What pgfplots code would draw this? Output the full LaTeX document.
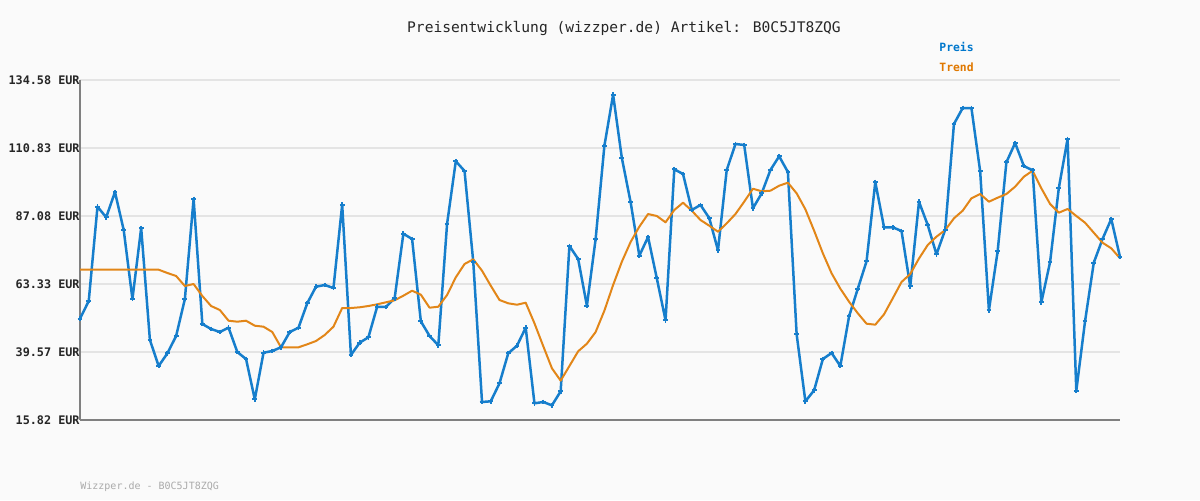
\documentclass[border=0pt]{standalone}
\usepackage{fontspec}
\newfontfamily\mono{DejaVu Sans Mono}
\usepackage{pgfplots}
\usepackage{pgfplotstable}
\pgfplotsset{compat=1.18}
\definecolor{bgcol}{HTML}{FAFAFA}
\definecolor{preis}{RGB}{22,126,204}
\definecolor{preistxt}{RGB}{0,119,204}
\definecolor{trend}{RGB}{226,134,24}
\definecolor{trendtxt}{RGB}{224,120,0}
\definecolor{gridc}{HTML}{E4E4E4}
\definecolor{axisc}{HTML}{808080}
\definecolor{foot}{HTML}{AAAAAA}

\pgfplotstableread{
x preis trend
0 51.20 68.32
1 57.39 68.32
2 90.33 68.32
3 86.62 68.32
4 95.46 68.32
5 82.19 68.32
6 58.08 68.32
7 82.88 68.32
8 43.76 68.32
9 34.68 68.32
10 39.12 67.17
11 45.16 66.12
12 58.08 62.63
13 93.01 63.32
14 49.35 59.13
15 47.61 55.64
16 46.56 54.24
17 48.06 50.50
18 39.57 50.16
19 37.13 50.50
20 23.05 48.76
21 39.33 48.41
22 39.92 46.56
23 41.21 41.21
24 46.56 41.21
25 48.06 41.21
26 56.58 42.26
27 62.38 43.41
28 62.97 45.51
29 61.93 48.41
30 91.02 54.94
31 38.52 54.94
32 42.82 55.19
33 44.71 55.64
34 55.39 56.23
35 55.29 56.93
36 58.33 57.63
37 80.89 59.24
38 79.04 60.98
39 50.30 59.59
40 45.16 55.05
41 41.91 55.39
42 84.28 59.48
43 106.22 65.66
44 102.79 70.31
45 71.01 71.95
46 22.11 67.97
47 22.35 62.73
48 28.64 57.74
49 39.12 56.58
50 41.77 56.09
51 48.06 56.79
52 21.65 49.60
53 22.11 41.67
54 20.95 33.88
55 25.84 29.55
56 76.60 34.68
57 72.06 39.82
58 55.74 42.47
59 79.04 46.56
60 111.53 54.00
61 129.45 62.97
62 107.34 71.11
63 91.97 77.99
64 73.21 83.34
65 79.74 87.77
66 65.31 87.08
67 50.64 84.88
68 103.39 89.17
69 101.75 91.72
70 89.17 88.93
71 90.92 85.68
72 86.38 83.69
73 75.10 81.59
74 103.14 84.52
75 112.23 87.77
76 111.88 92.07
77 89.77 96.61
78 95.00 95.70
79 103.14 95.91
80 107.93 97.66
81 102.44 98.71
82 45.75 95.00
83 22.35 89.42
84 26.19 81.94
85 37.13 74.05
86 39.22 67.06
87 34.68 61.68
88 52.04 57.14
89 61.68 53.09
90 71.25 49.46
91 98.95 49.11
92 83.13 52.74
93 83.13 58.33
94 81.84 64.02
95 62.52 66.82
96 92.04 72.23
97 83.93 76.95
98 73.70 79.85
99 82.29 82.19
100 119.21 86.27
101 124.80 88.93
102 124.80 93.26
103 102.69 94.76
104 54.14 92.07
105 74.75 93.47
106 105.83 94.76
107 112.57 97.31
108 104.54 100.80
109 103.04 102.90
110 56.93 96.75
111 71.01 91.27
112 96.86 88.23
113 113.97 89.52
114 26.05 87.08
115 50.30 84.74
116 70.76 81.24
117 79.04 77.75
118 86.03 75.79
119 72.75 72.30
}\datatable

\begin{document}
\begin{tikzpicture}
\fill[bgcol] (0,0) rectangle (600pt,250pt);
\useasboundingbox (0,0) rectangle (600pt,250pt);
\begin{axis}[
  at={(40pt,40pt)}, anchor=south west,
  scale only axis, width=520pt, height=170pt,
  xmin=0, xmax=119, ymin=15.82, ymax=134.58,
  axis x line*=bottom, axis y line*=left,
  axis line style={draw=axisc, line width=1pt, -},
  xtick=\empty,
  ytick={15.82,39.57,63.33,87.08,110.83,134.58},
  yticklabels={15.82 EUR,39.57 EUR,63.33 EUR,87.08 EUR,110.83 EUR,134.58 EUR},
  yticklabel style={font=\mono\bfseries\fontsize{5.9}{6}\selectfont, inner sep=0pt, text=black!85},
  major tick length=0pt,
  ymajorgrids, grid style={draw=gridc, line width=1pt},
  clip=false,
]
\addplot[preis, line width=1.25pt, line join=round, mark=+, mark size=1.2pt, mark options={line width=0.9pt, line join=round}] table[x=x, y=preis] {\datatable};
\addplot[trend, line width=1pt, line join=round, no markers] table[x=x, y=trend] {\datatable};
\end{axis}
\node[font=\mono\fontsize{7.3}{8}\selectfont, text=black!85] at (312pt,236pt) {Preisentwicklung (wizzper.de) Artikel: B0C5JT8ZQG};
\node[font=\mono\bfseries\fontsize{5.7}{6}\selectfont, text=preistxt, anchor=west, inner sep=0pt] at (469.5pt,226.5pt) {Preis};
\node[font=\mono\bfseries\fontsize{5.7}{6}\selectfont, text=trendtxt, anchor=west, inner sep=0pt] at (469.5pt,216.5pt) {Trend};
\node[font=\mono\fontsize{5}{6}\selectfont, text=foot, anchor=west, inner sep=0pt] at (40pt,6.5pt) {Wizzper.de - B0C5JT8ZQG};
\end{tikzpicture}
\end{document}
